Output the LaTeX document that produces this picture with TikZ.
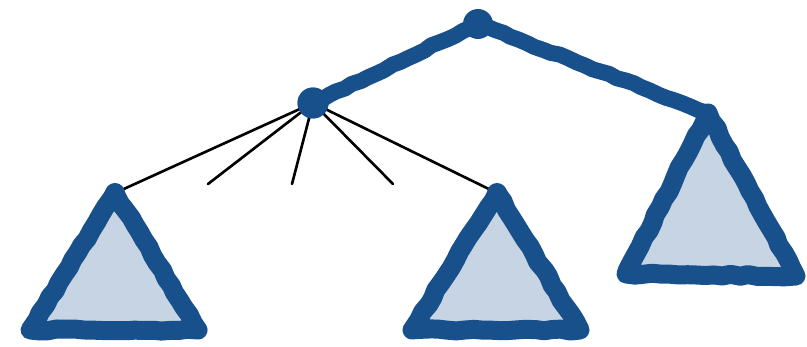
\documentclass[tikz,border=0pt]{standalone}
\usepackage{xcolor}
\usepackage{tikz}
\usetikzlibrary{positioning, decorations.pathmorphing}

\definecolor{treeblue}{HTML}{17508A}
\definecolor{treefill}{HTML}{C6D4E3}

\begin{document}
\begin{tikzpicture}[
  x=0.02cm, y=-0.02cm,
  sketch/.style={decorate, decoration={random steps, segment length=5pt, amplitude=0.6pt}},
  subtree/.style={sketch, draw=treeblue, fill=treefill, line width=0.38cm,
                  line join=round, line cap=round},
  spine/.style={sketch, draw=treeblue, line width=0.32cm, line join=round, line cap=round},
  child/.style={draw=black, line width=1.5pt, line cap=round},
  blob/.style={circle, fill=treeblue, inner sep=0pt, minimum size=0.62cm}
]
\useasboundingbox (0,0) rectangle (807,347);

% ── Nodes ─────────────────────────────────────────────────
\node[blob]                         (root)  at (313,103) {};
\node[blob, minimum size=0.6cm]     (top)   at (478,24)  {};
\coordinate (rapex) at (708,113);
\coordinate (lapex) at (115,193);
\coordinate (mapex) at (497,193);

% ── Blue spine ────────────────────────────────────────────
\draw[spine] (root.center) -- (top.center) -- (rapex);

% ── Subtrees ──────────────────────────────────────────────
\draw[subtree] (lapex) -- (30,330) -- (198,330) -- cycle;
\draw[subtree] (mapex) -- (412,330) -- (580,330) -- cycle;
\draw[subtree] (rapex) -- (626,274) -- (796,276) -- cycle;

% ── Children of root ──────────────────────────────────────
\coordinate (c2) at (208,184);
\coordinate (c3) at (292,184);
\coordinate (c4) at (393,184);
\draw[child] (root.center) -- (lapex);
\draw[child] (root.center) -- (c2);
\draw[child] (root.center) -- (c3);
\draw[child] (root.center) -- (c4);
\draw[child] (root.center) -- (mapex);

\node[blob] at (root) {};
\fill[treeblue] (lapex) circle (10);
\fill[treeblue] (mapex) circle (10);

\end{tikzpicture}
\end{document}
